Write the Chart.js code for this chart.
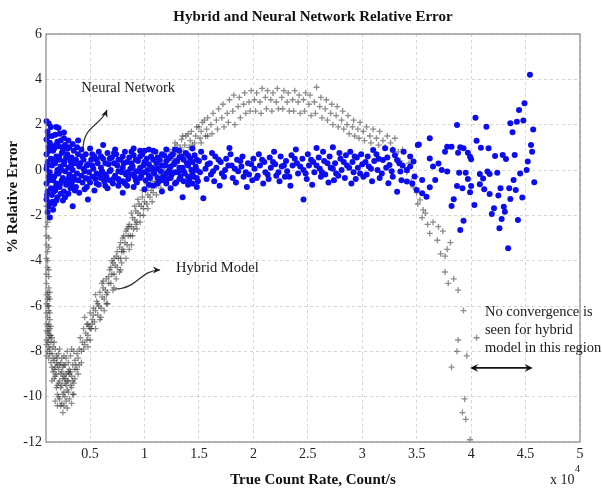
<!DOCTYPE html>
<html>
<head>
<meta charset="utf-8">
<script src="https://cdn.jsdelivr.net/npm/chart.js@4.4.0/dist/chart.umd.min.js"></script>
<style>
html, body { margin: 0; padding: 0; background: #fff; }
#errChart { display: block; }
</style>
</head>
<body>
<canvas id="errChart" width="602" height="492"></canvas>
<script>
// x values are in units of 10^4 count/s, y values in % relative error

const xTicks = [0.5, 1, 1.5, 2, 2.5, 3, 3.5, 4, 4.5, 5];
const yTicks = [-12, -10, -8, -6, -4, -2, 0, 2, 4, 6];

// Neural network (blue dots)
const nnDense = [
    [0.10,2.15],[0.12,2.05],[0.11,1.7],[0.10,1.35],[0.12,1.0],[0.10,0.7],[0.11,0.35],[0.10,0.05],[0.12,-0.3],[0.10,-0.6],[0.11,-0.95],[0.10,-1.3],[0.12,-1.6],[0.11,-1.85],
    [0.115,1.5],[0.125,0.85],[0.105,0.2],[0.125,-0.45],[0.105,-1.1],
    [0.14,1.9],[0.15,1.5],[0.13,1.2],[0.16,0.85],[0.14,0.5],[0.15,0.2],[0.13,-0.1],[0.16,-0.45],[0.14,-0.8],[0.15,-1.1],[0.13,-1.45],[0.16,-1.75],[0.13,-2.1],
    [0.145,1.05],[0.165,0.35],[0.145,-0.3],[0.165,-0.95],[0.155,-1.4],
    [0.19,1.9],[0.18,1.55],[0.20,1.25],[0.17,0.95],[0.19,0.6],[0.18,0.3],[0.20,0.0],[0.17,-0.3],[0.19,-0.6],[0.18,-0.9],[0.20,-1.2],[0.17,-1.5],[0.19,-1.35],
    [0.185,1.1],[0.175,0.45],[0.195,-0.15],[0.185,-0.75],
    [0.22,1.6],[0.23,1.3],[0.21,1.05],[0.24,0.75],[0.22,0.45],[0.23,0.15],[0.21,-0.15],[0.24,-0.45],[0.22,-0.75],[0.23,-1.05],[0.25,-1.35],[0.21,1.85],
    [0.215,0.6],[0.235,0.0],[0.225,-0.6],[0.245,1.0],
    [0.26,1.4],[0.27,1.1],[0.25,0.85],[0.28,0.55],[0.26,0.25],[0.27,-0.05],[0.25,-0.35],[0.28,-0.65],[0.26,-0.95],[0.27,-1.2],[0.26,1.65],
    [0.265,0.4],[0.275,-0.5],[0.295,0.95],[0.305,-0.35],
    [0.30,1.3],[0.31,1.0],[0.29,0.7],[0.32,0.4],[0.30,0.1],[0.31,-0.2],[0.29,-0.5],[0.32,-0.8],[0.30,-1.05],[0.34,-1.6],
    [0.325,0.2],[0.345,-0.45],
    [0.34,1.15],[0.35,0.85],[0.33,0.55],[0.36,0.3],[0.34,0.0],[0.35,-0.3],[0.33,-0.6],[0.36,-0.9],[0.39,1.3],
    [0.38,1.0],[0.39,0.7],[0.37,0.45],[0.40,0.15],[0.38,-0.15],[0.39,-0.45],[0.37,-0.75],[0.40,-1.0],
    [0.42,0.9],[0.43,0.6],[0.41,0.3],[0.44,0.05],[0.42,-0.25],[0.43,-0.55],[0.45,-0.85],[0.48,-1.3]
];
const nnBand = [
    [0.46,0.7],[0.47,0.2],[0.46,-0.35],[0.47,-0.75],[0.50,0.95],[0.51,0.45],[0.49,-0.1],[0.50,-0.55],
    [0.54,0.6],[0.53,0.05],[0.55,-0.4],[0.54,-0.9],[0.58,0.8],[0.57,0.3],[0.59,-0.2],[0.58,-0.65],
    [0.62,0.5],[0.61,-0.05],[0.63,-0.5],[0.62,1.1],[0.66,0.75],[0.67,0.25],[0.65,-0.3],[0.66,-0.8],
    [0.70,0.55],[0.69,0.0],[0.71,-0.6],[0.73,0.9],[0.74,0.7],[0.75,0.2],[0.73,-0.25],[0.76,-0.7],
    [0.78,0.45],[0.79,-0.1],[0.77,-0.5],[0.80,-1.0],[0.82,0.8],[0.81,0.3],[0.83,-0.2],[0.82,-0.6],
    [0.86,0.55],[0.87,0.05],[0.85,-0.4],[0.90,0.95],[0.90,0.65],[0.89,0.15],[0.91,-0.3],[0.90,-0.75],
    [0.94,0.4],[0.95,-0.05],[0.93,-0.55],[0.96,0.85],[0.98,0.7],[0.99,0.2],[0.97,-0.25],[1.00,-0.85],
    [1.02,0.5],[1.03,0.0],[1.01,-0.45],[1.04,0.9],[1.06,0.6],[1.07,0.1],[1.05,-0.35],[1.08,-0.7],
    [1.10,0.8],[1.11,0.3],[1.09,-0.15],[1.12,-0.6],[1.14,0.45],[1.15,-0.05],[1.13,-0.5],[1.16,-0.95],
    [1.18,0.65],[1.19,0.2],[1.17,-0.3],[1.20,0.9],[1.22,0.5],[1.23,0.0],[1.21,-0.4],[1.24,-0.8],
    [1.26,0.7],[1.27,0.25],[1.25,-0.2],[1.28,-0.6],[1.30,0.4],[1.31,-0.1],[1.29,-0.55],[1.32,0.85],
    [1.34,0.6],[1.35,0.1],[1.33,-0.3],[1.35,-1.2],[1.38,0.75],[1.39,0.3],[1.37,-0.15],[1.40,-0.65],
    [1.42,0.5],[1.43,0.0],[1.41,-0.45],[1.44,0.95],[1.46,0.65],[1.47,0.15],[1.45,-0.3],[1.48,-0.75],
    [1.50,0.4],[1.51,-0.1],[1.49,-0.5],[1.52,0.8],[1.54,-1.25],
    [0.44,0.45],[0.45,-0.05],[0.48,0.25],[0.48,-0.4],[0.52,0.7],[0.52,0.2],[0.52,-0.3],[0.56,0.45],[0.56,-0.15],[0.56,-0.6],
    [0.60,0.6],[0.60,0.1],[0.60,-0.35],[0.64,0.3],[0.64,-0.2],[0.64,-0.7],[0.68,0.5],[0.68,-0.05],[0.68,-0.45],[0.72,0.3],
    [0.72,-0.35],[0.72,0.75],[0.76,0.45],[0.76,-0.05],[0.76,-0.4],[0.80,0.6],[0.80,0.1],[0.80,-0.5],[0.84,0.35],[0.84,-0.1],
    [0.84,-0.7],[0.88,0.8],[0.88,0.3],[0.88,-0.2],[0.92,0.45],[0.92,-0.05],[0.92,-0.45],[0.96,0.6],[0.96,0.1],[0.96,-0.35],
    [1.00,0.35],[1.00,-0.1],[1.00,0.85],[1.04,0.25],[1.04,-0.25],[1.04,-0.65],[1.08,0.45],[1.08,-0.05],[1.08,0.85],[1.12,0.55],
    [1.12,0.05],[1.12,-0.35],[1.16,0.7],[1.16,0.2],[1.16,-0.45],[1.20,0.4],[1.20,-0.15],[1.20,-0.6],[1.24,0.6],[1.24,0.15],
    [1.24,-0.35],[1.28,0.35],[1.28,-0.1],[1.28,0.9],[1.32,0.55],[1.32,0.1],[1.32,-0.4],[1.36,0.45],[1.36,-0.05],[1.36,-0.5],
    [1.40,0.2],[1.40,0.65],[1.40,-0.3],[1.44,0.35],[1.44,-0.15],[1.44,-0.6],[1.48,0.45],[1.48,0.0],[1.48,-0.35]
];
const nnMid = [
    [1.55,0.55],[1.56,0.05],[1.57,-0.4],[1.60,0.3],[1.61,-0.2],[1.62,0.75],[1.65,0.6],[1.66,0.1],[1.64,-0.5],
    [1.70,0.35],[1.71,-0.15],[1.69,-0.7],[1.75,0.5],[1.74,0.0],[1.78,0.97],[1.80,0.2],[1.81,-0.35],[1.79,0.7],
    [1.85,0.45],[1.86,-0.05],[1.84,-0.55],[1.90,0.6],[1.89,0.15],[1.91,-0.3],[1.95,0.3],[1.96,-0.2],[1.94,-0.75],
    [2.00,0.5],[2.01,0.05],[1.99,-0.45],[2.05,0.7],[2.06,0.2],[2.04,-0.25],[2.10,0.35],[2.11,-0.1],[2.09,-0.6],
    [2.15,0.55],[2.16,0.1],[2.14,-0.4],[2.20,0.25],[2.21,-0.25],[2.19,0.8],[2.25,0.6],[2.26,0.15],[2.24,-0.5],
    [2.30,0.4],[2.31,-0.05],[2.29,-0.3],[2.35,0.65],[2.36,0.2],[2.34,-0.7],[2.40,0.3],[2.41,-0.15],[2.39,0.9],
    [2.46,-1.3],[2.45,0.5],[2.46,0.0],[2.50,0.7],[2.51,0.2],[2.49,-0.4],[2.55,0.35],[2.56,-0.1],[2.54,-0.65],
    [2.58,0.97],[2.60,0.55],[2.61,0.05],[2.62,-0.3],[2.65,0.4],[2.66,-0.2],[2.64,0.8],[2.70,0.6],[2.71,0.1],[2.69,-0.55],
    [2.73,1.0],[2.75,0.3],[2.76,-0.15],[2.74,-0.45],[2.80,0.5],[2.81,0.0],[2.79,0.75],[2.85,0.65],[2.86,0.2],[2.84,-0.35],
    [2.89,0.8],[2.90,-0.6],[2.91,0.35],[2.92,-0.1],[2.95,0.55],[2.96,0.1],[2.94,-0.4],[3.00,0.25],[3.01,-0.3],[2.99,0.7],
    [3.05,0.6],[3.06,0.15],[3.04,-0.2],[3.10,0.88],[3.11,0.4],[3.09,-0.5],[3.15,0.5],[3.14,0.0],[3.16,-0.35],
    [3.21,0.96],[3.28,0.88],[3.38,0.81],[3.19,0.44],[3.25,0.22],[3.32,0.44],[3.35,-0.07],[3.24,-0.59],[3.32,-0.96],
    [3.41,0.0],[3.47,0.37],[3.48,-0.29],[3.28,-0.3],[3.22,0.1],[3.30,0.65],[3.44,0.6],[3.51,1.1],[3.41,-0.51],[3.37,0.2],
    [1.58,0.25],[1.63,-0.05],[1.68,0.45],[1.73,-0.3],[1.77,0.2],[1.83,0.05],[1.88,0.4],[1.93,-0.1],[1.98,0.25],[2.03,-0.35],
    [2.08,0.45],[2.13,-0.2],[2.18,0.35],[2.23,-0.1],[2.28,0.2],[2.33,-0.3],[2.38,0.5],[2.43,0.15],[2.48,-0.15],[2.53,0.45],
    [2.58,0.2],[2.63,-0.1],[2.68,0.3],[2.73,0.05],[2.78,-0.25],[2.83,0.35],[2.88,0.1],[2.93,0.6],[2.98,-0.15],[3.03,0.35],
    [3.08,0.05],[3.13,0.7],[3.18,-0.15],[3.23,0.55],[3.27,-0.05],[3.34,0.3],[3.44,0.15],[3.36,-0.45],[3.46,-0.6]
];
const nnSparse = [
    [3.55,-0.44],[3.62,0.51],[3.65,0.15],[3.70,0.29],[3.73,0.0],[3.78,-0.07],[3.59,-1.18],[3.55,-1.03],[3.50,-0.88],
    [3.62,-0.76],[3.67,-0.44],[3.78,1.03],[3.62,1.40],[3.52,1.13],[3.87,1.99],[4.04,2.31],[4.14,1.91],[4.54,4.2],
    [4.49,2.94],[4.44,2.65],[4.36,2.06],[4.42,2.13],[4.48,2.18],[4.38,1.66],[4.57,1.79],[4.05,1.29],[4.09,0.98],
    [4.16,0.96],[4.55,1.10],[4.56,0.81],[3.82,1.03],[3.90,1.00],[3.93,0.96],[3.76,0.81],[3.88,0.76],[3.97,0.76],
    [3.99,0.59],[4.00,0.47],[4.22,0.62],[4.29,0.66],[4.32,0.49],[4.40,0.66],[4.52,0.37],[4.51,0.0],[4.45,-0.15],
    [4.58,-0.54],[4.39,-0.44],[3.89,-0.12],[3.95,-0.12],[3.97,-0.40],[4.08,-0.18],[4.15,-0.07],[4.17,-0.18],[4.24,-0.12],
    [4.11,-0.37],[3.87,-0.71],[3.92,-0.81],[4.00,-0.71],[3.99,-0.98],[4.08,-0.63],[4.12,-0.85],[4.17,-1.06],[4.25,-1.13],
    [4.27,-0.81],[4.35,-0.81],[4.41,-0.88],[4.36,-1.28],[4.47,-1.21],[3.84,-1.29],[3.82,-1.59],[4.03,-1.54],[4.21,-1.69],
    [4.30,-1.62],[4.19,-1.94],[4.31,-1.84],[4.28,-2.16],[3.93,-2.24],[4.43,-2.21],[3.90,-2.65],[4.26,-2.57],[4.34,-3.45]
];

// Hybrid model (grey crosses)
const hybLow = [
    [0.10,-1.6],[0.11,-2.3],[0.10,-2.9],[0.12,-3.4],[0.10,-3.9],[0.11,-4.3],[0.12,-4.7],[0.10,-5.0],[0.11,-5.4],[0.13,-5.7],
    [0.10,-5.9],[0.12,-6.2],[0.11,-6.5],[0.10,-6.8],[0.13,-7.0],[0.11,-7.2],[0.12,-7.4],[0.10,-7.5],[0.14,-7.6],[0.12,-7.8],
    [0.11,-8.0],[0.13,-6.6],[0.12,-5.2],[0.11,-4.0],[0.12,-3.0],[0.13,-7.3],[0.10,-7.1],[0.14,-6.9],[0.11,-6.0],[0.12,-5.6],
    [0.10,-4.6],[0.11,-3.6],[0.10,-2.5],[0.11,-1.9],[0.12,-6.8],[0.10,-7.7],[0.13,-8.1],
    [0.10,-6.3],[0.12,-7.1],[0.11,-7.6],[0.13,-7.9],[0.10,-8.2],[0.12,-8.3],[0.11,-5.7],[0.13,-6.3],[0.12,-4.4],[0.10,-3.3],
    [0.11,-6.9],[0.14,-7.3],[0.12,-6.0],[0.13,-5.4],[0.10,-5.5],
    [0.15,-8.1],[0.17,-8.4],[0.16,-7.8],[0.18,-8.7],[0.20,-8.3],[0.19,-9.0],[0.21,-8.8],[0.22,-9.3],[0.24,-8.9],[0.23,-9.6],
    [0.25,-9.2],[0.26,-9.8],[0.27,-9.4],[0.28,-9.0],[0.29,-9.7],[0.30,-9.3],[0.31,-8.8],[0.32,-9.5],[0.33,-9.1],[0.34,-8.6],
    [0.35,-9.9],[0.36,-8.4],[0.17,-9.2],[0.19,-9.6],[0.21,-10.0],[0.24,-10.3],[0.25,-10.7],[0.18,-10.2],[0.28,-10.2],[0.31,-10.1],
    [0.34,-9.9],[0.22,-7.9],[0.26,-8.2],[0.29,-8.0],[0.32,-8.2],[0.20,-9.5],[0.23,-8.5],[0.27,-8.6],[0.30,-8.5],[0.16,-8.9],
    [0.14,-8.5],[0.15,-9.3],[0.33,-7.9],[0.35,-8.0],[0.37,-8.6],[0.38,-8.1],[0.36,-9.2],[0.22,-10.1],[0.27,-10.0],[0.15,-7.4],
    [0.18,-7.9],[0.24,-8.3],[0.26,-9.1],[0.20,-8.6],[0.28,-9.5],[0.31,-9.0],[0.33,-9.6],[0.25,-9.9],[0.19,-8.2],[0.17,-8.8],
    [0.16,-8.3],[0.18,-9.1],[0.20,-9.9],[0.23,-9.0],[0.25,-8.7],[0.27,-9.2],[0.29,-9.3],[0.21,-9.4],[0.23,-10.4],[0.26,-10.4],
    [0.30,-9.8],[0.32,-8.9],[0.34,-9.3],[0.36,-8.8],[0.38,-8.8],[0.17,-7.6],[0.19,-8.5],[0.21,-8.1],[0.24,-9.5],[0.26,-8.6],
    [0.28,-8.3],[0.30,-8.9],[0.15,-8.7],[0.22,-8.6],[0.29,-10.5],[0.33,-10.3],[0.20,-10.4],[0.35,-9.4],[0.39,-9.0],[0.40,-8.6]
];
const hybRise = [
    [0.40,-7.9],[0.41,-7.4],[0.39,-8.3],[0.43,-7.6],[0.44,-7.0],[0.42,-8.0],[0.46,-7.2],[0.47,-6.8],[0.45,-7.7],
    [0.49,-6.9],[0.50,-6.3],[0.48,-7.3],[0.52,-6.6],[0.53,-6.1],[0.51,-7.0],[0.55,-6.2],[0.56,-5.8],[0.54,-6.7],
    [0.58,-6.0],[0.59,-5.4],[0.57,-6.4],[0.61,-5.6],[0.62,-5.2],[0.60,-6.1],[0.64,-5.3],[0.65,-4.8],[0.63,-5.7],
    [0.67,-5.0],[0.68,-4.4],[0.66,-5.4],[0.70,-4.6],[0.71,-4.1],[0.69,-5.0],[0.73,-4.2],[0.74,-3.8],[0.72,-4.6],
    [0.76,-3.9],[0.77,-3.4],[0.75,-4.3],[0.79,-3.6],[0.80,-3.0],[0.78,-3.9],[0.82,-3.2],[0.83,-2.7],[0.81,-3.6],
    [0.85,-2.9],[0.86,-2.4],[0.84,-3.3],[0.88,-2.5],[0.89,-2.1],[0.87,-2.9],[0.91,-2.2],[0.92,-1.8],[0.90,-2.6],
    [0.94,-1.9],[0.95,-1.5],[0.93,-2.3],[0.97,-1.6],[0.98,-1.2],[0.96,-2.0],[1.00,-1.4],[1.01,-0.9],[0.99,-1.7],
    [1.03,-1.1],[1.04,-0.7],[1.02,-1.5],[1.06,-0.9],[1.07,-0.5],[1.05,-1.2],[1.09,-0.6],[1.10,-0.2],[1.08,-1.0],
    [1.12,-0.4],[1.13,0.0],[1.11,-0.7],[1.15,-0.2],[1.16,0.25],[1.14,-0.5],[1.18,0.0],[1.19,0.4],[1.17,-0.3],
    [1.21,0.2],[1.22,0.6],[1.20,-0.1],[1.25,0.5],[1.26,0.9],[1.24,0.2],[1.29,0.8],[1.30,1.1],[1.28,0.5],
    [1.33,1.0],[1.34,1.35],[1.32,0.7],[1.37,1.1],[1.38,1.5],[1.36,0.8],[1.42,1.3],[1.43,1.7],[1.41,1.0],
    [1.47,1.5],[1.48,1.9],[1.46,1.2],[1.52,1.7],[1.53,2.1],[1.51,1.4],[1.57,1.8],[1.58,2.3],[1.56,1.5],
    [0.45,-6.5],[0.50,-7.0],[0.55,-5.5],[0.60,-6.5],[0.65,-5.9],[0.70,-4.0],[0.72,-5.2],[0.78,-4.4],[0.80,-3.5],
    [0.84,-2.6],[0.88,-3.3],[0.92,-2.4],[0.62,-4.9],[0.48,-7.8],[0.42,-8.5],[0.52,-6.8],
    [0.44,-7.9],[0.48,-6.8],[0.47,-7.5],[0.50,-7.5],[0.53,-6.4],[0.55,-7.0],[0.57,-5.9],[0.59,-6.6],[0.61,-5.0],[0.63,-6.2],
    [0.65,-5.5],[0.67,-4.7],[0.66,-5.9],[0.69,-4.3],[0.71,-5.3],[0.72,-3.9],[0.74,-4.8],[0.75,-3.6],[0.77,-4.5],[0.78,-3.2],
    [0.79,-4.1],[0.81,-2.9],[0.83,-3.9],[0.85,-2.5],[0.86,-3.5],[0.88,-1.9],[0.89,-2.9],[0.91,-1.6],[0.93,-2.6],[0.94,-1.3],
    [0.96,-2.3],[0.98,-0.9],[0.99,-2.0],[1.02,-0.6],[1.03,-1.7],[1.06,-0.3],[1.07,-1.4],[1.10,0.1],[1.11,-1.1],[1.14,0.3],
    [1.15,-0.8],[1.19,0.6],[1.19,-0.5],[1.23,0.8],[1.24,-0.1],[1.28,1.2],[1.30,0.3],[1.35,1.5],[1.36,0.6],[1.40,1.6],
    [1.44,1.1],[1.50,1.9],[1.52,1.2],[1.55,2.2],[1.58,1.5]
];
const hybHump = [
    [1.61,2.0],[1.63,2.5],[1.62,1.6],[1.66,2.2],[1.68,2.7],[1.67,1.8],[1.71,2.3],[1.72,2.9],[1.73,1.9],
    [1.76,2.5],[1.78,3.1],[1.77,2.1],[1.81,2.6],[1.82,3.3],[1.83,2.0],[1.86,2.8],[1.87,3.2],[1.88,2.3],
    [1.91,2.9],[1.92,3.4],[1.93,2.5],[1.96,3.0],[1.97,2.6],[1.98,3.5],[2.01,3.1],[2.02,2.6],[2.03,3.4],
    [2.06,3.0],[2.08,3.6],[2.07,2.5],[2.11,3.2],[2.12,2.7],[2.13,3.5],[2.16,3.1],[2.17,2.6],[2.18,3.4],
    [2.21,3.0],[2.22,3.6],[2.23,2.7],[2.26,3.2],[2.27,2.7],[2.28,3.5],[2.31,3.0],[2.32,3.4],[2.33,2.6],
    [2.36,3.1],[2.37,2.6],[2.38,3.5],[2.41,3.0],[2.42,3.3],[2.43,2.5],[2.46,3.1],[2.47,2.6],[2.48,3.4],
    [2.51,2.9],[2.52,3.3],[2.53,2.4],[2.56,3.0],[2.58,3.65],[2.57,2.5],[2.61,2.8],[2.62,3.2],[2.63,2.3],
    [2.66,2.7],[2.67,3.1],[2.68,2.2],[2.71,2.5],[2.72,2.9],[2.73,2.0],[2.76,2.4],[2.77,2.8],[2.78,1.9],
    [2.81,2.2],[2.82,2.6],[2.83,1.8],[2.86,2.0],[2.87,2.4],[2.88,1.6],[2.91,1.9],[2.92,2.2],[2.93,1.5],
    [2.96,1.8],[2.97,1.4],[2.98,2.1],[3.01,1.7],[3.02,1.3],[3.04,1.9],[3.07,1.5],[3.08,1.2],[3.10,1.8],
    [3.13,1.4],[3.15,1.1],[3.16,1.7],[3.19,1.3],[3.21,1.0],[3.23,1.5],[3.26,1.2],[3.28,0.9],[3.30,1.4]
];
const hybTail = [
    [3.33,0.8],[3.35,0.4],[3.37,0.9],[3.39,0.1],[3.41,-0.1],[3.43,0.3],[3.45,-0.5],[3.47,-0.75],[3.49,-0.3],[3.50,-1.0],
    [3.51,-1.5],[3.53,-1.32],[3.56,-1.76],[3.55,-2.1],[3.65,-2.3],[3.70,-2.5],[3.62,-2.8],[3.74,-2.7],[3.69,-3.1],[3.81,-3.2],
    [3.78,-3.5],[3.72,-3.7],[3.76,-3.8],[3.58,-1.9],[3.60,-2.4],[3.76,-4.5],[3.79,-5.0],[3.84,-4.8],[3.88,-5.3],[3.93,-6.2],
    [3.88,-7.5],[4.05,-7.4],[3.87,-8.0],[3.96,-8.2],[3.82,-8.7],[3.94,-10.1],[3.92,-10.7],[3.95,-11.0],[3.99,-11.9]
];

const serif = '"Liberation Serif", "Times New Roman", serif';
const toXY = arr => arr.map(p => ({ x: p[0], y: p[1] }));

function arrowHead(ctx, fx, fy, tx, ty, size) {
    const a = Math.atan2(ty - fy, tx - fx);
    ctx.beginPath();
    ctx.moveTo(tx, ty);
    ctx.lineTo(tx - size * Math.cos(a - 0.45), ty - size * Math.sin(a - 0.45));
    ctx.lineTo(tx - size * 0.6 * Math.cos(a), ty - size * 0.6 * Math.sin(a));
    ctx.lineTo(tx - size * Math.cos(a + 0.45), ty - size * Math.sin(a + 0.45));
    ctx.closePath();
    ctx.fill();
}

function curvedArrow(ctx, x0, y0, c1, c2, tip) {
    ctx.beginPath();
    ctx.moveTo(x0, y0);
    ctx.bezierCurveTo(x0 + c1[0], y0 + c1[1], x0 + c2[0], y0 + c2[1], x0 + tip[0], y0 + tip[1]);
    ctx.stroke();
    arrowHead(ctx, x0 + c2[0], y0 + c2[1], x0 + tip[0], y0 + tip[1], 8);
}

const framePlugin = {
    id: "frame",
    afterDraw(chart) {
        const { ctx, chartArea: a } = chart;
        ctx.save();
        ctx.strokeStyle = "#858585";
        ctx.lineWidth = 1.2;
        ctx.strokeRect(a.left, a.top, a.right - a.left, a.bottom - a.top);
        // y axis title, placed a bit above the middle as in the original figure
        ctx.translate(13, 197);
        ctx.rotate(-Math.PI / 2);
        ctx.fillStyle = "#111";
        ctx.font = "bold 15px " + serif;
        ctx.textAlign = "center";
        ctx.textBaseline = "middle";
        ctx.fillText("% Relative Error", 0, 0);
        ctx.restore();
    }
};

const notesPlugin = {
    id: "notes",
    afterDraw(chart) {
        const { ctx, chartArea: a } = chart;
        const x = chart.scales.x, y = chart.scales.y;
        const px = v => x.getPixelForValue(v), py = v => y.getPixelForValue(v);
        ctx.save();
        ctx.fillStyle = "#1a1a1a";
        ctx.strokeStyle = "#333";
        ctx.lineWidth = 1.2;
        ctx.font = "14.5px " + serif;
        ctx.textBaseline = "middle";

        ctx.textAlign = "center";
        ctx.fillText("Neural Network", px(0.85), py(3.62));
        curvedArrow(ctx, px(0.435), py(0.88), [0, -25], [17, -23], [24, -40]);

        ctx.textAlign = "left";
        ctx.fillText("Hybrid Model", px(1.29), py(-4.32));
        curvedArrow(ctx, px(0.73), py(-5.25), [22, 0], [25, -19], [45, -19]);

        ctx.fillText("No convergence is", px(4.127), py(-6.26));
        ctx.fillText("seen for hybrid", px(4.127), py(-7.06));
        ctx.fillText("model in this region", px(4.127), py(-7.85));

        const x1 = px(3.99), x2 = px(4.567), ya = py(-8.73);
        ctx.strokeStyle = "#111";
        ctx.fillStyle = "#111";
        ctx.lineWidth = 1.6;
        ctx.beginPath();
        ctx.moveTo(x1 + 4, ya);
        ctx.lineTo(x2 - 4, ya);
        ctx.stroke();
        arrowHead(ctx, x2, ya, x1, ya, 9);
        arrowHead(ctx, x1, ya, x2, ya, 9);

        ctx.fillStyle = "#1a1a1a";
        ctx.font = "14px " + serif;
        ctx.fillText("x 10", a.right - 30, 480);
        ctx.font = "10px " + serif;
        ctx.fillText("4", a.right - 5, 469);
        ctx.restore();
    }
};

new Chart(document.getElementById("errChart"), {
    type: "scatter",
    data: {
        datasets: [
            {
                label: "Neural Network",
                data: toXY([...nnDense, ...nnBand, ...nnMid, ...nnSparse]),
                order: 0,
                clip: false,
                pointStyle: "circle",
                pointRadius: 3,
                pointBackgroundColor: "rgb(12,12,240)",
                pointBorderWidth: 0
            },
            {
                label: "Hybrid Model",
                data: toXY([...hybLow, ...hybRise, ...hybHump, ...hybTail]),
                order: 1,
                clip: false,
                pointStyle: "cross",
                pointRadius: 3,
                pointBorderColor: "rgba(25,25,25,0.5)",
                pointBorderWidth: 1.3
            }
        ]
    },
    options: {
        responsive: false,
        animation: false,
        devicePixelRatio: 1,
        events: [],
        layout: { padding: { left: 0, right: 22, top: 0, bottom: 0 } },
        plugins: {
            legend: { display: false },
            tooltip: { enabled: false },
            title: {
                display: true,
                text: "Hybrid and Neural Network Relative Error",
                fullSize: false,
                color: "#111",
                font: { family: serif, size: 15, weight: "bold" },
                padding: { top: 8, bottom: 8 }
            }
        },
        scales: {
            x: {
                type: "linear",
                min: 0.095,
                max: 5,
                afterBuildTicks: s => { s.ticks = xTicks.map(v => ({ value: v })); },
                afterFit: s => { s.height = 50; },
                ticks: { color: "#222", font: { family: serif, size: 14 }, padding: 4, callback: v => String(v) },
                grid: { color: "rgba(0,0,0,0.16)", drawTicks: false },
                border: { display: false, dash: [3, 3] },
                title: {
                    display: true,
                    text: "True Count Rate, Count/s",
                    color: "#111",
                    font: { family: serif, size: 15, weight: "bold" },
                    padding: { top: 0, bottom: 3 }
                }
            },
            y: {
                type: "linear",
                min: -12,
                max: 6,
                afterBuildTicks: s => { s.ticks = yTicks.map(v => ({ value: v })); },
                afterFit: s => { s.width = 46; },
                ticks: { color: "#222", font: { family: serif, size: 14 }, padding: 4, callback: v => String(v) },
                grid: { color: "rgba(0,0,0,0.16)", drawTicks: false },
                border: { display: false, dash: [3, 3] }
            }
        }
    },
    plugins: [framePlugin, notesPlugin]
});
</script>
</body>
</html>
